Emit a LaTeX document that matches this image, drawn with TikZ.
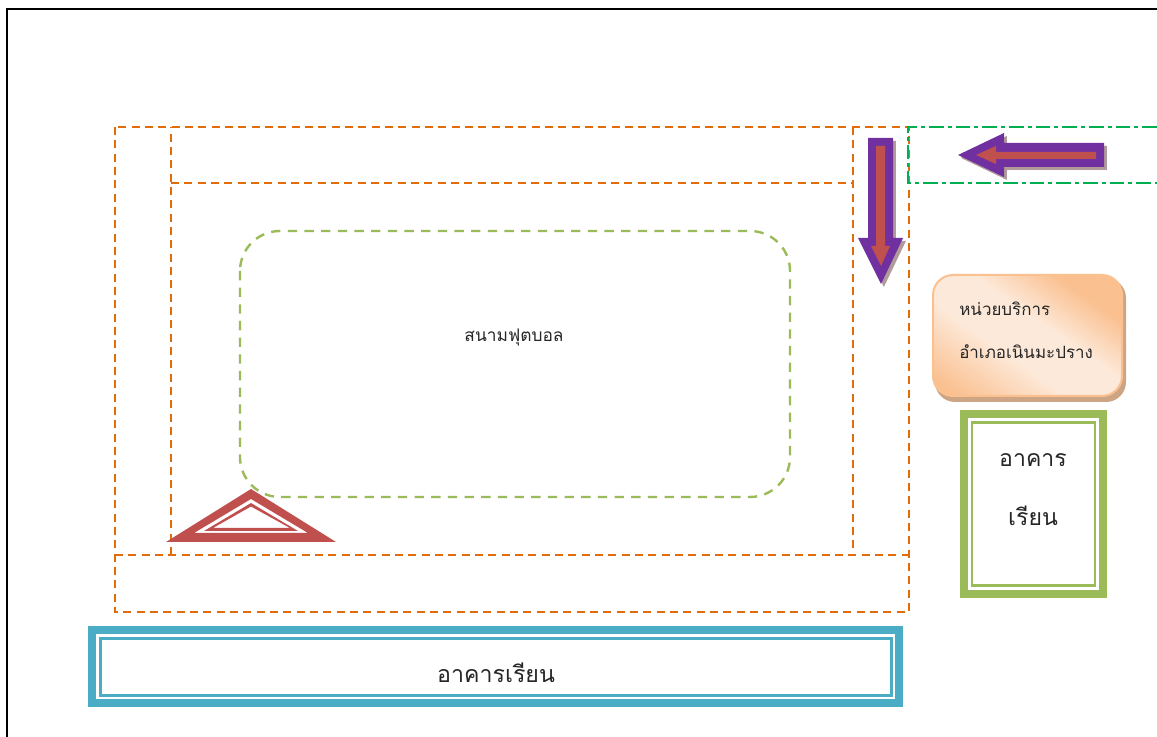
\documentclass[tikz,border=0pt]{standalone}
\usepackage{fontspec}
\newfontfamily\thaifont[Script=Thai]{Loma}
\definecolor{roadorange}{HTML}{E36C0A}
\definecolor{pitchgreen}{HTML}{9BBB59}
\definecolor{lanegreen}{HTML}{00B050}
\definecolor{arrowpurple}{HTML}{7030A0}
\definecolor{arrowred}{HTML}{C0504D}
\definecolor{arrowshadow}{HTML}{B09A9A}
\definecolor{hallblue}{HTML}{4BACC6}
\definecolor{unitorange}{HTML}{FAC090}
\definecolor{unitlight}{HTML}{FDE9D9}
\definecolor{unitshadow}{HTML}{CDA584}
\definecolor{labelgray}{HTML}{262626}
\pgfdeclareverticalshading{unitshade}{100bp}{color(0bp)=(unitorange); color(20bp)=(unitorange); color(41bp)=(unitlight); color(56bp)=(unitlight); color(72bp)=(unitorange); color(100bp)=(unitorange)}
\tikzset{
    road/.style={draw=roadorange, line width=1.4pt, dash pattern=on 6pt off 4pt},
    lane/.style={draw=lanegreen, line width=1.4pt, dash pattern=on 11pt off 3pt on 3pt off 3pt},
    pitch/.style={draw=pitchgreen, line width=1.8pt, dash pattern=on 7pt off 5.5pt, rounded corners=30pt},
    label/.style={text=labelgray, inner sep=0pt}
}
\begin{document}
\begin{tikzpicture}[x=0.75pt, y=-0.75pt]
                \useasboundingbox (0, 0) rectangle (1157, 737);
                % page frame
                \draw [line width=1.5pt] (7, 737) -- (7, 9.5) -- (1157, 9.5);
                % roads
                \draw [road] (115, 127) rectangle (909, 612);
                \draw [road] (171, 555) -- (171, 127);
                \draw [road] (171, 183) -- (853, 183);
                \draw [road] (853, 127) -- (853, 555);
                \draw [road] (115, 555) -- (909, 555);
                \draw [lane] (1157, 127) -- (908, 127) -- (908, 183) -- (1157, 183);
                % pitch
                \draw [pitch] (240, 231) rectangle (790, 497);
                \node [label, font=\thaifont\fontsize{13}{16}\selectfont] (pitchname) at (514, 338) {สนามฟุตบอล};
                % arrow into the lane
                \fill [arrowshadow, xshift=2.2pt, yshift=-2.2pt] (958, 155) -- (1004, 133) -- (1004, 143) -- (1104, 143) -- (1104, 167) -- (1004, 167) -- (1004, 177) -- cycle;
                \fill [arrowpurple] (958, 155) -- (1004, 133) -- (1004, 143) -- (1104, 143) -- (1104, 167) -- (1004, 167) -- (1004, 177) -- cycle;
                \fill [arrowred] (976, 155) -- (996, 146) -- (996, 152) -- (1096, 152) -- (1096, 159) -- (996, 159) -- (996, 164) -- cycle;
                % arrow down the road
                \fill [arrowshadow, xshift=2.2pt, yshift=-2.2pt] (881, 284) -- (858, 238) -- (868, 238) -- (868, 138) -- (893, 138) -- (893, 238) -- (903, 238) -- cycle;
                \fill [arrowpurple] (881, 284) -- (858, 238) -- (868, 238) -- (868, 138) -- (893, 138) -- (893, 238) -- (903, 238) -- cycle;
                \fill [arrowred] (881, 266) -- (871, 246) -- (876, 246) -- (876, 146) -- (885, 146) -- (885, 246) -- (890, 246) -- cycle;
                % service unit
                \fill [unitshadow, rounded corners=15pt] (935, 278) rectangle (1126, 402);
                \draw [draw=unitorange, line width=1.5pt, rounded corners=15pt, shading=unitshade, shading angle=-35] (933, 275) rectangle (1122, 396);
                \node [label, anchor=west, font=\thaifont\fontsize{12.7}{16}\selectfont] (unitone) at (959, 309) {หน่วยบริการ};
                \node [label, anchor=west, font=\thaifont\fontsize{12.7}{16}\selectfont] (unittwo) at (959, 352) {อำเภอเนินมะปราง};
                % side hall
                \draw [pitchgreen, line width=6pt] (964, 414) rectangle (1103, 594);
                \draw [pitchgreen, line width=2pt] (972, 422.5) rectangle (1095, 585.5);
                \node [label, font=\thaifont\fontsize{17.3}{22}\selectfont] (sideone) at (1033, 460) {อาคาร};
                \node [label, font=\thaifont\fontsize{17.3}{22}\selectfont] (sidetwo) at (1033, 516) {เรียน};
                % main hall
                \draw [hallblue, line width=6pt] (92, 630) rectangle (899, 703);
                \draw [hallblue, line width=2pt] (100.5, 638.5) rectangle (891.5, 695.5);
                \node [label, font=\thaifont\fontsize{17.4}{22}\selectfont] (hallname) at (496, 673) {อาคารเรียน};
                % triangle marker
                \fill [arrowred, even odd rule] (251, 489) -- (336, 542) -- (166, 542) -- cycle (251, 499) -- (308, 533) -- (194, 533) -- cycle;
                \fill [arrowred, even odd rule] (251, 503) -- (298, 531) -- (204, 531) -- cycle (251, 506.5) -- (290, 528) -- (213, 528) -- cycle;
            \end{tikzpicture}
\end{document}
